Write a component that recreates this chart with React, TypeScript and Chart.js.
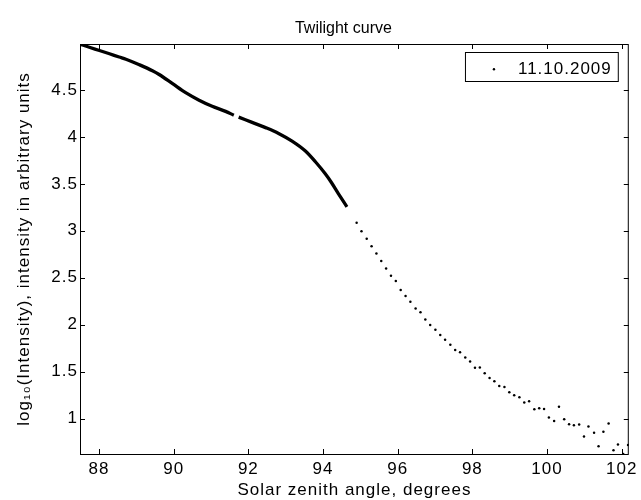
import React, { useEffect, useRef } from 'react';
import { Chart, registerables } from 'chart.js';

Chart.register(...registerables);

const CHART_TITLE = 'Twilight curve';
const X_TITLE = 'Solar zenith angle, degrees';
const Y_TITLE = 'log₁₀(Intensity), intensity in arbitrary units';
const SERIES_LABEL = '11.10.2009';

const X_TICKS = [88, 90, 92, 94, 96, 98, 100, 102];
const Y_TICKS = [1, 1.5, 2, 2.5, 3, 3.5, 4, 4.5];
const X_MIN = 87.49;
const X_MAX = 102.19;
const Y_MIN = 0.622;
const Y_MAX = 4.99;

// densely sampled part of the record (before the short gap)
const DENSE1_ANGLE = [87.5, 87.74, 88.01, 88.28, 88.54, 88.72, 89.08, 89.43, 89.61, 89.97, 90.32, 90.68, 91.03, 91.39, 91.61];
const DENSE1_LOG = [4.987, 4.955, 4.921, 4.886, 4.851, 4.828, 4.769, 4.705, 4.665, 4.567, 4.471, 4.391, 4.326, 4.272, 4.232];
// densely sampled part (after the gap)
const DENSE2_ANGLE = [91.74, 92.1, 92.46, 92.81, 93.17, 93.52, 93.79, 94.06, 94.22, 94.41, 94.64];
const DENSE2_LOG = [4.211, 4.155, 4.099, 4.037, 3.955, 3.852, 3.738, 3.607, 3.517, 3.397, 3.255];
// sparse samples
const DOT_ANGLE = [
  94.9, 95.03, 95.17, 95.3, 95.43, 95.56, 95.69, 95.82, 95.95, 96.08,
  96.21, 96.34, 96.48, 96.61, 96.74, 96.87, 97.01, 97.14, 97.27, 97.41,
  97.54, 97.67, 97.81, 97.94, 98.07, 98.2, 98.33, 98.46, 98.59, 98.72,
  98.86, 98.99, 99.12, 99.26, 99.39, 99.52, 99.66, 99.79, 99.92, 100.05,
  100.19, 100.32, 100.46, 100.59, 100.72, 100.86, 100.99, 101.11, 101.26, 101.38,
  101.51, 101.65, 101.78, 101.9, 102.04, 102.17,
];
const DOT_LOG = [
  3.085, 2.996, 2.915, 2.836, 2.759, 2.677, 2.599, 2.521, 2.464, 2.368,
  2.304, 2.245, 2.173, 2.131, 2.056, 1.996, 1.947, 1.889, 1.84, 1.787,
  1.73, 1.705, 1.649, 1.607, 1.54, 1.543, 1.482, 1.432, 1.397, 1.347,
  1.336, 1.28, 1.248, 1.227, 1.17, 1.184, 1.099, 1.11, 1.102, 1.012,
  0.974, 1.126, 0.993, 0.939, 0.929, 0.937, 0.809, 0.915, 0.849, 0.705,
  0.86, 0.948, 0.661, 0.723, 0.623, 0.719,
];

const FONT_FAMILY = "'Liberation Sans', Arial, Helvetica, sans-serif";
const FONT_SIZE = 17;
const TITLE_FONT_SIZE = 16;
const LETTER_SPACING = '1px';
const FONT = { family: FONT_FAMILY, size: FONT_SIZE, weight: 'normal' as const };

const toPoints = (xs: number[], ys: number[]) => xs.map((x, i) => ({ x, y: ys[i] }));

const spacingPlugin = {
  id: 'letterSpacing',
  beforeDraw(chart: any) {
    chart.ctx.letterSpacing = LETTER_SPACING;
  },
};

const axesBoxPlugin = {
  id: 'axesBox',
  afterDraw(chart: any, _args: any, opts: any) {
    const { ctx, chartArea: a, scales } = chart;
    const tickLen = 5;
    ctx.save();

    // title, above the axes
    ctx.letterSpacing = '0px';
    ctx.fillStyle = '#000';
    ctx.font = `${TITLE_FONT_SIZE}px ${FONT_FAMILY}`;
    ctx.textAlign = 'center';
    ctx.textBaseline = 'middle';
    ctx.fillText(opts.title, (a.left + a.right) / 2 - 11, 29);
    ctx.letterSpacing = LETTER_SPACING;

    ctx.strokeStyle = '#000';
    ctx.lineWidth = 1;
    ctx.strokeRect(a.left + 0.5, a.top + 0.5, a.right - a.left - 1, a.bottom - a.top);
    ctx.beginPath();
    for (const v of X_TICKS) {
      const px = Math.round(scales.x.getPixelForValue(v)) + 0.5;
      ctx.moveTo(px, a.bottom);
      ctx.lineTo(px, a.bottom - tickLen);
      ctx.moveTo(px, a.top);
      ctx.lineTo(px, a.top + tickLen);
    }
    for (const v of Y_TICKS) {
      const py = Math.round(scales.y.getPixelForValue(v)) + 0.5;
      ctx.moveTo(a.left, py);
      ctx.lineTo(a.left + tickLen, py);
      ctx.moveTo(a.right, py);
      ctx.lineTo(a.right - tickLen, py);
    }
    ctx.stroke();

    // legend box inside the axes (top right)
    const ds = chart.data.datasets.find((d: any) => d.inLegend);
    if (ds) {
      ctx.font = `${FONT_SIZE}px ${FONT_FAMILY}`;
      const tw = ctx.measureText(ds.label).width;
      const h = 29;
      const w = 28 + 24 + tw + 7;
      const right = a.right - 10.5;
      const top = a.top + 8.5;
      const left = right - w;
      ctx.fillStyle = '#fff';
      ctx.fillRect(left, top, w, h);
      ctx.strokeRect(left, top, w, h);
      ctx.fillStyle = '#000';
      ctx.beginPath();
      ctx.arc(left + 28.5, top + 16.8, 1.2, 0, Math.PI * 2);
      ctx.fill();
      ctx.textBaseline = 'middle';
      ctx.textAlign = 'left';
      ctx.fillText(ds.label, left + 52.5, top + 17);
    }
    ctx.restore();
  },
};

export default function App() {
  const ref = useRef<HTMLCanvasElement>(null);

  useEffect(() => {
    if (!ref.current) return;
    Chart.defaults.font.family = FONT_FAMILY;
    Chart.defaults.color = '#000';
    const lineDs = (pts: { x: number; y: number }[]) => ({
      label: SERIES_LABEL,
      data: pts,
      showLine: true,
      borderColor: '#000',
      backgroundColor: '#000',
      borderWidth: 3.3,
      pointRadius: 0,
      pointHoverRadius: 0,
      cubicInterpolationMode: 'monotone' as const,
      borderCapStyle: 'butt' as const,
    });
    const chart = new Chart(ref.current, {
      type: 'scatter',
      data: {
        datasets: [
          lineDs(toPoints(DENSE1_ANGLE, DENSE1_LOG)),
          lineDs(toPoints(DENSE2_ANGLE, DENSE2_LOG)),
          {
            label: SERIES_LABEL,
            inLegend: true,
            data: toPoints(DOT_ANGLE, DOT_LOG),
            showLine: false,
            pointRadius: 1.25,
            pointBorderWidth: 0,
            pointBackgroundColor: '#000',
            backgroundColor: '#000',
            borderColor: '#000',
          } as any,
        ],
      },
      options: {
        animation: false,
        responsive: true,
        maintainAspectRatio: false,
        events: [],
        layout: { padding: { left: 0, right: 10, top: 44, bottom: 0 } },
        plugins: {
          legend: { display: false },
          tooltip: { enabled: false },
          title: { display: false },
          axesBox: { title: CHART_TITLE },
        },
        scales: {
          x: {
            type: 'linear',
            position: 'bottom',
            min: X_MIN,
            max: X_MAX,
            grid: { display: false, drawTicks: false },
            border: { display: false },
            ticks: {
              autoSkip: false,
              maxRotation: 0,
              padding: 5,
              color: '#000',
              font: FONT,
              callback: (v: any) => String(v),
            },
            afterBuildTicks: (s: any) => {
              s.ticks = X_TICKS.map((v) => ({ value: v }));
            },
            afterFit: (s: any) => {
              s.height = 46;
            },
            title: {
              display: true,
              text: X_TITLE,
              color: '#000',
              font: FONT,
              padding: { top: 0, bottom: -1 },
            },
          },
          y: {
            type: 'linear',
            position: 'left',
            min: Y_MIN,
            max: Y_MAX,
            grid: { display: false, drawTicks: false },
            border: { display: false },
            ticks: {
              autoSkip: false,
              padding: 2,
              color: '#000',
              font: FONT,
              callback: (v: any) => String(v),
            },
            afterBuildTicks: (s: any) => {
              s.ticks = Y_TICKS.map((v) => ({ value: v }));
            },
            afterFit: (s: any) => {
              s.width = 80;
            },
            title: {
              display: true,
              text: Y_TITLE,
              color: '#000',
              font: FONT,
              padding: { top: 14, bottom: 0 },
            },
          },
        },
      },
      plugins: [spacingPlugin, axesBoxPlugin],
    } as any);
    return () => chart.destroy();
  }, []);

  return (
    <div style={{ position: 'absolute', left: 0, top: 0, width: 641, height: 500, background: '#fff' }}>
      <canvas ref={ref} />
    </div>
  );
}
